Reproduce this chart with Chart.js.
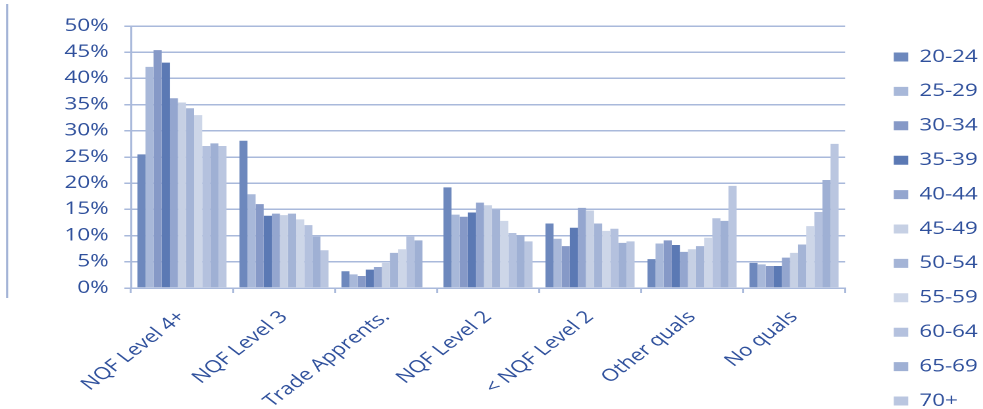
<!DOCTYPE html>
<html>
<head>
<meta charset="utf-8">
<script src="https://cdn.jsdelivr.net/npm/chart.js@4"></script>
<style>
  html, body { margin: 0; padding: 0; background: #ffffff; overflow: hidden; width: 983px; height: 409px; }
  #wrap { width: 753px; height: 432px; transform: scaleX(1.316); transform-origin: 0 0; }
</style>
</head>
<body>
<div id="wrap"><canvas id="c" width="753" height="432"></canvas></div>
<script>
// Qualification groups along the x axis
const categories = ['NQF Level 4+', 'NQF Level 3', 'Trade Apprents.', 'NQF Level 2', '< NQF Level 2', 'Other quals', 'No quals'];

// Age bands (one series each)
const ageBands = ['20-24', '25-29', '30-34', '35-39', '40-44', '45-49', '50-54', '55-59', '60-64', '65-69', '70+'];

// Share of each age band holding each qualification level (%)
const age2024 = [25.5, 28.1, 3.2, 19.2, 12.3, 5.5, 4.8];
const age2529 = [42.2, 17.9, 2.6, 14.0, 9.4, 8.5, 4.5];
const age3034 = [45.4, 16.0, 2.3, 13.6, 8.0, 9.1, 4.2];
const age3539 = [43.0, 13.8, 3.5, 14.4, 11.5, 8.2, 4.2];
const age4044 = [36.2, 14.2, 4.0, 16.3, 15.3, 6.9, 5.8];
const age4549 = [35.4, 13.9, 4.8, 15.8, 14.8, 7.4, 6.7];
const age5054 = [34.3, 14.2, 6.7, 14.9, 12.3, 8.0, 8.3];
const age5559 = [33.0, 13.1, 7.4, 12.8, 10.9, 9.6, 11.8];
const age6064 = [27.1, 12.0, 9.8, 10.5, 11.3, 13.3, 14.5];
const age6569 = [27.6, 9.8, 9.1, 10.1, 8.6, 12.8, 20.6];
const age70 = [27.1, 7.2, 0, 8.9, 8.9, 19.5, 27.5];

// Y axis tick settings (%)
const yMin = 0;
const yMax = 50;
const yStep = 5;

const seriesValues = [age2024, age2529, age3034, age3539, age4044, age4549, age5054, age5559, age6064, age6569, age70];
const seriesColors = ['#6d88bd', '#a8b8d9', '#8699c7', '#5b79b4', '#94a6cf', '#c6d0e4', '#a4b4d6', '#cdd6e8', '#b4c1de', '#9fb0d4', '#bac6e0'];

const textColor = '#2f509c';
const lineColor = '#a9b9db';
const baseFont = { family: "'Open Sans', sans-serif", size: 17 };

// Thin vertical rule along the left edge of the slide
const edgeRule = {
  id: 'edgeRule',
  beforeDraw(chart) {
    const ctx = chart.ctx;
    ctx.save();
    ctx.strokeStyle = '#a3b3d6';
    ctx.lineWidth = 1.6;
    ctx.beginPath();
    ctx.moveTo(5.4, 4);
    ctx.lineTo(5.4, 298);
    ctx.stroke();
    ctx.restore();
  }
};

new Chart(document.getElementById('c'), {
  type: 'bar',
  data: {
    labels: categories,
    datasets: ageBands.map((band, i) => ({
      label: band,
      data: seriesValues[i],
      backgroundColor: seriesColors[i],
      borderWidth: 0,
      categoryPercentage: 0.874,
      barPercentage: 1.0
    }))
  },
  options: {
    responsive: false,
    animation: false,
    devicePixelRatio: 2,
    layout: { padding: { top: 26, left: 0, right: 0, bottom: 0 } },
    plugins: {
      tooltip: { enabled: false },
      legend: {
        position: 'right',
        labels: {
          color: textColor,
          font: baseFont,
          boxWidth: 11,
          boxHeight: 9,
          padding: 17.4
        }
      }
    },
    scales: {
      x: {
        grid: {
          display: true,
          drawOnChartArea: false,
          drawTicks: true,
          tickLength: 5,
          color: lineColor,
          lineWidth: 1.5
        },
        border: { display: true, color: lineColor, width: 1.5 },
        ticks: {
          color: textColor,
          font: baseFont,
          minRotation: 45,
          maxRotation: 45,
          autoSkip: false,
          padding: 14
        },
        afterFit(scale) { scale.height = 144; }
      },
      y: {
        min: yMin,
        max: yMax,
        grid: {
          color: lineColor,
          lineWidth: 1.5,
          tickLength: 5
        },
        border: { display: true, color: lineColor, width: 1.5 },
        ticks: {
          stepSize: yStep,
          color: textColor,
          font: baseFont,
          padding: 12,
          callback: (v) => v + '%'
        },
        afterFit(scale) { scale.width = 99.5; }
      },
      gap: {
        position: 'right',
        display: true,
        grid: { display: false },
        border: { display: false },
        ticks: { display: false },
        afterFit(scale) { scale.width = 19.6; }
      }
    }
  },
  plugins: [edgeRule]
});
</script>
</body>
</html>
